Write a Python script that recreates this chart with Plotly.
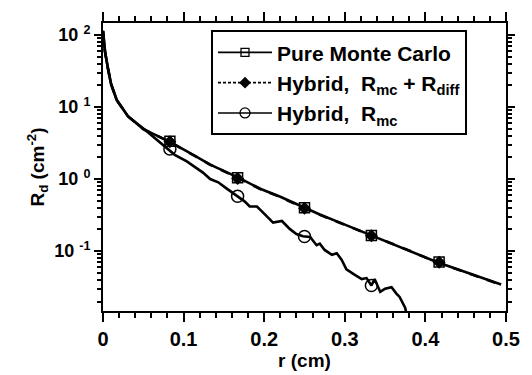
import plotly.graph_objects as go

# ---- data ----
# Pure Monte Carlo (solid line)
pmc_r = [0.0, 0.0025, 0.006, 0.010, 0.017, 0.031, 0.050, 0.082, 0.112, 0.133,
         0.168, 0.195, 0.220, 0.248, 0.269, 0.294, 0.333, 0.379, 0.414, 0.494]
pmc_R = [114, 58.6, 35.0, 20.9, 12.5, 7.45, 4.94, 3.34, 2.17, 1.59,
         1.05, 0.734, 0.568, 0.405, 0.322, 0.249, 0.165, 0.104, 0.0708, 0.0344]

# Hybrid, Rmc + Rdiff (dashed line)
hyb_r = [0.0, 0.0025, 0.006, 0.010, 0.017, 0.031, 0.050, 0.082, 0.112, 0.133,
         0.168, 0.195, 0.220, 0.248, 0.269, 0.294, 0.333, 0.379, 0.414, 0.494]
hyb_R = [113, 58.0, 34.6, 20.7, 12.4, 7.40, 4.92, 3.31, 2.15, 1.58,
         1.03, 0.728, 0.563, 0.400, 0.319, 0.247, 0.163, 0.103, 0.0702, 0.0342]

# Hybrid, Rmc (solid, noisy)
rmc_r = [0.0, 0.0025, 0.006, 0.010, 0.017, 0.031, 0.052, 0.080, 0.089, 0.104,
         0.124, 0.133, 0.143, 0.151, 0.167, 0.176, 0.182, 0.191, 0.199, 0.211,
         0.222, 0.232, 0.240, 0.248, 0.257, 0.265, 0.269, 0.275, 0.284, 0.290,
         0.296, 0.302, 0.311, 0.321, 0.327, 0.333, 0.337, 0.344, 0.350, 0.358,
         0.364, 0.368, 0.375, 0.378]
rmc_R = [114, 58.6, 35.0, 20.9, 12.5, 7.40, 4.85, 2.66, 2.17, 1.76,
         1.23, 1.00, 0.903, 0.774, 0.578, 0.487, 0.417, 0.417, 0.339, 0.249,
         0.262, 0.202, 0.173, 0.161, 0.157, 0.121, 0.127, 0.104, 0.0889, 0.0934,
         0.0762, 0.056, 0.048, 0.041, 0.0423, 0.0334, 0.041, 0.0272, 0.0301, 0.0317,
         0.0258, 0.0232, 0.0163, 0.011]

# marker positions
mk_r = [0.083, 0.167, 0.25, 0.333, 0.417]
pmc_mk = [3.34, 1.04, 0.400, 0.165, 0.0708]
hyb_mk = [3.30, 1.02, 0.395, 0.163, 0.0700]
rmc_mk_r = [0.083, 0.167, 0.25, 0.333]
rmc_mk = [2.62, 0.578, 0.160, 0.0334]

names = ["<b>Pure Monte Carlo</b>",
         "<b>Hybrid,\u00a0\u00a0R<sub>mc</sub> + R<sub>diff</sub></b>",
         "<b>Hybrid,\u00a0\u00a0R<sub>mc</sub></b>"]

x_ticks = [0, 0.1, 0.2, 0.3, 0.4, 0.5]
x_labels = ["<b>0</b>", "<b>0.1</b>", "<b>0.2</b>", "<b>0.3</b>", "<b>0.4</b>", "<b>0.5</b>"]
x_minor_step = 0.02
y_ticks = [0.1, 1, 10, 100]
y_labels = ["<b>10 <sup>-1</sup></b>", "<b>10 <sup>0</sup></b>",
            "<b>10 <sup>1</sup></b>", "<b>10 <sup>2</sup></b>"]

FONT = "Liberation Sans, Arial, Helvetica, sans-serif"
LW = 2.6

fig = go.Figure()

# curves
fig.add_trace(go.Scatter(x=pmc_r, y=pmc_R, mode="lines", showlegend=False,
                         line=dict(color="black", width=LW)))
fig.add_trace(go.Scatter(x=hyb_r, y=hyb_R, mode="lines", showlegend=False,
                         line=dict(color="black", width=LW, dash="dash")))
fig.add_trace(go.Scatter(x=rmc_r, y=rmc_R, mode="lines", showlegend=False,
                         line=dict(color="black", width=LW)))

# markers
fig.add_trace(go.Scatter(x=mk_r, y=hyb_mk, mode="markers", showlegend=False,
                         marker=dict(symbol="diamond", size=10, color="black")))
fig.add_trace(go.Scatter(x=mk_r, y=pmc_mk, mode="markers", showlegend=False,
                         marker=dict(symbol="square-open", size=10, color="black",
                                     line=dict(width=1.5))))
fig.add_trace(go.Scatter(x=rmc_mk_r, y=rmc_mk, mode="markers", showlegend=False,
                         marker=dict(symbol="circle-open", size=12, color="black",
                                     line=dict(width=1.5))))

# legend entries
fig.add_trace(go.Scatter(x=[None], y=[None], mode="lines+markers", name=names[0],
                         line=dict(color="black", width=1.6),
                         marker=dict(symbol="square-open", size=8, color="black",
                                     line=dict(width=1.3))))
fig.add_trace(go.Scatter(x=[None], y=[None], mode="lines+markers", name=names[1],
                         line=dict(color="black", width=1.6, dash="3px,2px"),
                         marker=dict(symbol="diamond", size=9, color="black")))
fig.add_trace(go.Scatter(x=[None], y=[None], mode="lines+markers", name=names[2],
                         line=dict(color="black", width=1.6),
                         marker=dict(symbol="circle-open", size=10, color="black",
                                     line=dict(width=1.3))))

fig.update_layout(
    template="simple_white",
    width=532, height=375,
    margin=dict(l=103, r=26, t=23, b=55),
    font=dict(family=FONT, color="black", size=18),
    legend=dict(x=0.268, y=0.975, xanchor="left", yanchor="top",
                bordercolor="black", borderwidth=2, bgcolor="white",
                font=dict(family=FONT, size=21, color="black"),
                itemwidth=54),
    xaxis=dict(range=[0, 0.5], tickmode="array", tickvals=x_ticks, ticktext=x_labels,
               ticks="outside", ticklen=9, tickwidth=2, tickcolor="black",
               showline=True, linewidth=2, linecolor="black", mirror="allticks",
               tickfont=dict(family=FONT, size=20, color="black"),
               minor=dict(tick0=0, dtick=x_minor_step, ticks="outside",
                          ticklen=5, tickcolor="black"),
               title=dict(text="<b>r (cm)</b>", standoff=0,
                          font=dict(family=FONT, size=19, color="black"))),
    yaxis=dict(type="log", range=[-1.83, 2.165], tickmode="array",
               tickvals=y_ticks, ticktext=y_labels,
               ticks="outside", ticklen=7, tickwidth=2, tickcolor="black",
               showline=True, linewidth=2, linecolor="black", mirror="allticks",
               tickfont=dict(family=FONT, size=18, color="black"),
               minor=dict(dtick="D1", ticks="outside", ticklen=4, tickcolor="black"),
               title=dict(text="<b>R<sub>d</sub> (cm<sup>-2</sup>)</b>", standoff=5,
                          font=dict(family=FONT, size=19, color="black"))),
)

fig.write_html("out.html")
